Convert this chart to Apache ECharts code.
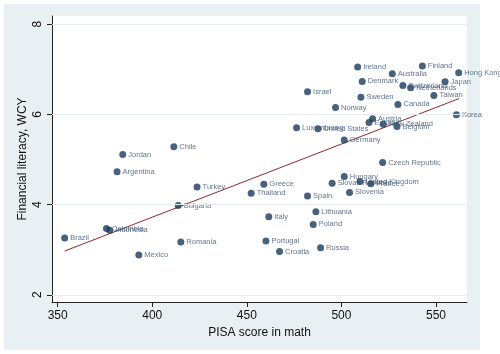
<!DOCTYPE html>
<html><head><meta charset="utf-8">
<script src="https://cdn.jsdelivr.net/npm/echarts@6/dist/echarts.min.js"></script>
<style>html,body{margin:0;padding:0;background:#fff}#c{width:500px;height:354px}</style>
</head><body><div id="c"></div>
<script>
const countries = ["Brazil","Colombia","Indonesia","Mexico","Romania","Bulgaria","Turkey","Argentina","Jordan","Chile",
"Greece","Thailand","Italy","Portugal","Croatia","Spain","Lithuania","Poland","Russia","Slovak Republic",
"Hungary","United Kingdom","France","Slovenia","Czech Republic","Germany","Luxembourg","United States","Austria","Estonia",
"New Zealand","Belgium","Canada","Norway","Sweden","Israel","Denmark","Ireland","Australia","Finland",
"Hong Kong","Japan","Switzerland","Netherlands","Taiwan","Korea"];
const pisa = [353.7,375.8,377.5,392.9,415.1,413.7,423.7,381.4,384.4,411.4,
459.0,452.3,461.6,460.1,467.3,482.1,486.5,485.1,489.0,495.1,
501.5,509.8,515.5,504.3,521.8,501.5,476.3,487.6,516.5,514.6,
522.1,529.4,529.9,496.9,510.3,482.1,511.0,508.6,526.9,542.8,
562.0,554.8,532.5,536.6,548.9,560.8];
const wcy = [3.26,3.47,3.43,2.88,3.17,3.98,4.39,4.73,5.11,5.28,
4.45,4.25,3.73,3.19,2.96,4.19,3.84,3.56,3.04,4.47,
4.62,4.51,4.46,4.27,4.93,5.43,5.70,5.68,5.90,5.82,
5.78,5.73,6.22,6.15,6.38,6.50,6.73,7.05,6.90,7.07,
6.92,6.72,6.64,6.59,6.42,5.99];
const fitX = [353.7, 562.2];
const fitY = [2.97, 6.35];
const xTicks = [350,400,450,500,550];
const yTicks = [2,4,6,8];

const chart = echarts.init(document.getElementById('c'), null, {renderer:'canvas'});
const pts = countries.map((n,i)=>({name:n, value:[pisa[i], wcy[i]]}));
chart.setOption({
  animation:false,
  backgroundColor:'#ffffff',
  graphic:[{type:'rect', z:-10, shape:{x:4,y:4,width:476,height:346}, style:{fill:'#e9f0f3'}}],
  grid:{left:52,right:33,top:16,bottom:52,show:true,backgroundColor:'#ffffff',borderWidth:0},
  xAxis:{type:'value',min:347,max:566.4,
    name:'PISA score in math',nameLocation:'middle',nameGap:18,
    nameTextStyle:{fontFamily:'Liberation Sans',fontSize:12,color:'#111'},
    axisLine:{show:true,onZero:false,lineStyle:{color:'#222',width:1}},
    axisTick:{show:true,length:5,lineStyle:{color:'#222'},customValues:xTicks},
    axisLabel:{fontFamily:'Liberation Sans',fontSize:12,color:'#111',margin:8,customValues:xTicks},
    splitLine:{show:false}},
  yAxis:{type:'value',min:1.84,max:8.18,
    name:'Financial literacy, WCY',nameLocation:'middle',nameGap:23,nameMoveOverlap:false,
    nameTextStyle:{fontFamily:'Liberation Sans',fontSize:12,color:'#111'},
    axisLine:{show:true,onZero:false,lineStyle:{color:'#222',width:1}},
    axisTick:{show:true,length:5,lineStyle:{color:'#222'},customValues:yTicks},
    axisLabel:{fontFamily:'Liberation Sans',fontSize:12,color:'#111',rotate:90,margin:8,customValues:yTicks},
    splitLine:{show:false}},
  series:[
    {type:'line',data:yTicks.map(v=>[347,v]),symbol:'none',lineStyle:{opacity:0},silent:true,
     markLine:{silent:true,symbol:'none',label:{show:false},lineStyle:{color:'#e6ecee',width:1,type:'solid'},
       data:yTicks.map(v=>({yAxis:v}))}},
    {type:'line',data:fitX.map((x,i)=>[x,fitY[i]]),symbol:'none',z:3,
     lineStyle:{color:'#8a2b2b',width:1}},
    {type:'scatter',data:pts,symbol:'circle',symbolSize:7,z:4,
     itemStyle:{color:'#1a3a5c'},
     label:{show:true,position:'right',distance:2,formatter:'{b}',fontFamily:'Liberation Sans',fontSize:7.5,color:'#3a5272'}}
  ]
});
</script></body></html>
